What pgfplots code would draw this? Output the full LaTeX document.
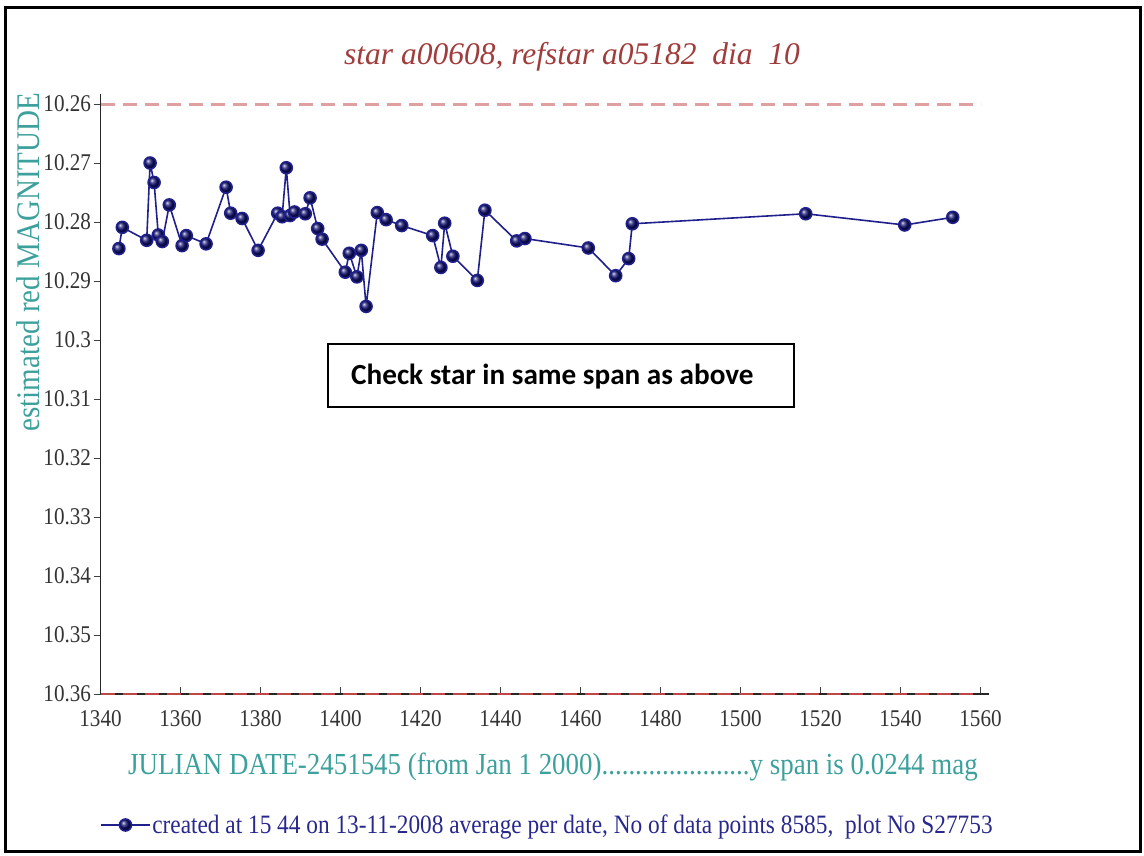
\documentclass[border=0pt]{standalone}
\usepackage{fontspec}
\setmainfont{Liberation Serif}[FakeStretch=0.88]
\newfontfamily\titlefont{Liberation Serif}
\newfontfamily\boxfont{Carlito}
\usepackage{pgfplots}
\pgfplotsset{compat=1.18}
\definecolor{titlered}{RGB}{160,60,60}
\definecolor{tealc}{RGB}{60,160,156}
\definecolor{navyline}{RGB}{32,32,140}
\definecolor{navymark}{RGB}{15,15,110}
\definecolor{legtext}{RGB}{40,40,140}
\definecolor{pinkline}{RGB}{222,160,160}
\definecolor{redline}{RGB}{190,70,70}
\begin{document}
\begin{tikzpicture}[x=1pt,y=1pt]
\useasboundingbox (0,0) rectangle (1144,855);
\draw[line width=3pt] (5,4) rectangle (1140,847);
\begin{axis}[
  at={(100.5pt,161pt)}, anchor=south west,
  scale only axis, width=888pt, height=600pt,
  xmin=1340, xmax=1562, ymin=10.2583, ymax=10.36,
  y dir=reverse,
  axis x line*=bottom, axis y line*=left,
  axis line style={line width=1.5pt, black!85},
  xtick={1340,1360,...,1560},
  ytick={10.26,10.27,10.28,10.29,10.3,10.31,10.32,10.33,10.34,10.35,10.36},
  yticklabels={10.26,10.27,10.28,10.29,10.3,10.31,10.32,10.33,10.34,10.35,10.36},
  /pgf/number format/1000 sep={},
  /pgf/number format/assume math mode=true,
  tick align=outside,
  major tick length=7pt,
  tick style={line width=1pt, black!75},
  x tick style={yshift=7pt},
  xticklabel style={font=\fontsize{24}{28}\selectfont, text=black!80, yshift=-6pt},
  yticklabel style={font=\fontsize{24}{28}\selectfont, text=black!80, xshift=1pt},
  clip=false,
  legend style={draw=none, fill=none, inner sep=0pt, at={(0,-0.2183)}, anchor=west,
    font=\fontsize{26.5}{30}\selectfont, text=legtext},
  legend cell align=left,
  legend image code/.code={\draw[mark repeat=2,mark phase=2,#1] plot coordinates {(0pt,0pt)(24pt,0pt)(48pt,0pt)};},
]
\addplot[pinkline, line width=3pt, dash pattern=on 14pt off 8pt, forget plot] coordinates {(1340,10.26) (1560,10.26)};
\addplot[redline, line width=2pt, dash pattern=on 14pt off 8pt, forget plot] coordinates {(1340,10.36) (1560,10.36)};
\addplot[navyline, line width=1.6pt, mark=ball, mark size=6pt, mark options={ball color=navymark}] coordinates {
(1344.6,10.2845)
(1345.45,10.2809)
(1351.55,10.2831)
(1352.4,10.2700)
(1353.4,10.2733)
(1354.45,10.2822)
(1355.45,10.2833)
(1357.2,10.2771)
(1360.4,10.2840)
(1361.45,10.2823)
(1366.4,10.2837)
(1371.4,10.2741)
(1372.55,10.2785)
(1375.4,10.2794)
(1379.4,10.2848)
(1384.3,10.2785)
(1385.4,10.2791)
(1386.45,10.2708)
(1387.4,10.2789)
(1388.5,10.2783)
(1391.2,10.2786)
(1392.4,10.2759)
(1394.3,10.2811)
(1395.4,10.2829)
(1401.2,10.2885)
(1402.2,10.2853)
(1404.1,10.2893)
(1405.2,10.2848)
(1406.4,10.2943)
(1409.2,10.2784)
(1411.4,10.2796)
(1415.3,10.2806)
(1423.05,10.2823)
(1425.1,10.2877)
(1426.05,10.2802)
(1428.1,10.2858)
(1434.2,10.2899)
(1436.1,10.2780)
(1444.05,10.2832)
(1446.1,10.2828)
(1461.95,10.2844)
(1468.8,10.2891)
(1472.05,10.2862)
(1472.95,10.2803)
(1516.3,10.2786)
(1541.05,10.2805)
(1553.05,10.2792)
};
\addlegendentry{created at 15 44 on 13-11-2008 average per date, No of data points 8585,\ \ plot No S27753}
\end{axis}
\node[text=titlered, font=\titlefont\itshape\fontsize{31.5}{36}\selectfont] at (572,798) {star a00608, refstar a05182\ \ dia\ \ 10};
\node[rotate=90, text=tealc, font=\fontsize{33}{36}\selectfont] at (28,593) {estimated red MAGNITUDE};
\node[text=tealc, font=\fontsize{30.6}{34}\selectfont] at (553,88) {JULIAN DATE-2451545 (from Jan 1 2000)......................y span is 0.0244 mag};
\draw[line width=1.2pt] (328,448) rectangle (794,511);
\node[anchor=west, inner sep=0pt, font=\boxfont\bfseries\fontsize{29.2}{31}\selectfont] at (351,478) {Check star in same span as above};
\end{tikzpicture}
\end{document}
